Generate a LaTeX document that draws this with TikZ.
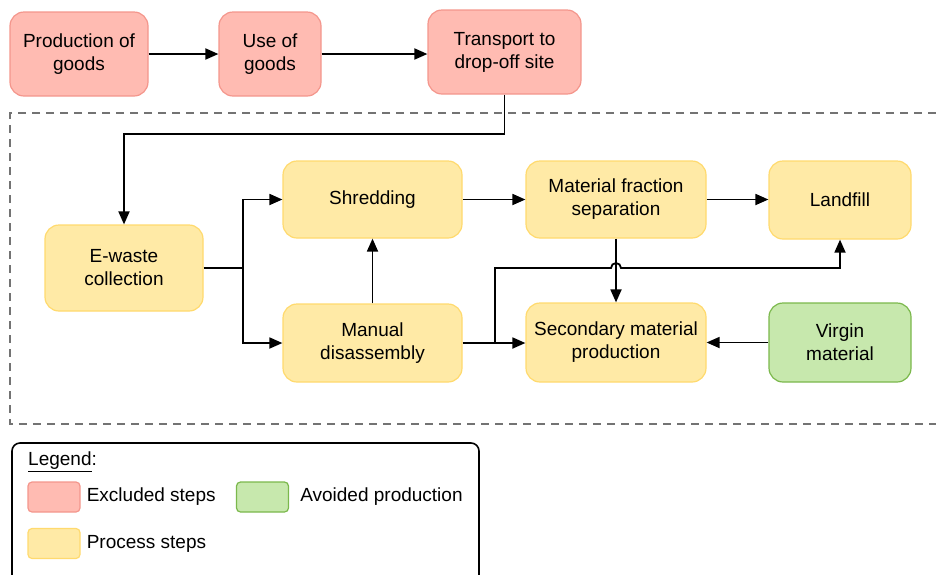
\documentclass[tikz,border=0pt]{standalone}
\usepackage{fontspec}
\setmainfont{Liberation Sans}
\usetikzlibrary{arrows.meta}

\definecolor{exclfill}{HTML}{FFBBB2}
\definecolor{excldraw}{HTML}{F4968C}
\definecolor{procfill}{HTML}{FFEAA6}
\definecolor{procdraw}{HTML}{FFDA6E}
\definecolor{avoidfill}{HTML}{C7E8AD}
\definecolor{avoiddraw}{HTML}{7BB84C}

\tikzset{
  box/.style={rounded corners=14pt, line width=1.2pt, align=center, inner sep=0pt,
              font=\fontsize{19}{23}\selectfont},
  excl/.style={box, fill=exclfill, draw=excldraw},
  proc/.style={box, fill=procfill, draw=procdraw},
  avoid/.style={box, fill=avoidfill, draw=avoiddraw},
  link/.style={line width=1.8pt},
  flow/.style={link, -{Triangle[length=13pt,width=11pt]}},
  swatch/.style={rounded corners=4pt, line width=1.2pt, minimum width=52pt, minimum height=30pt, inner sep=0pt},
  legtext/.style={anchor=west, inner sep=0pt, font=\fontsize{19}{23}\selectfont}
}

\begin{document}
\begin{tikzpicture}[x=1pt,y=1pt]
\useasboundingbox (0,0) rectangle (936,-574);

% excluded steps on top
\node[excl, minimum width=138pt, minimum height=84pt] (prod) at (79,-54) {Production of\\goods};
\node[excl, minimum width=102pt, minimum height=84pt] (use) at (270,-54) {Use of\\goods};
\node[excl, minimum width=153pt, minimum height=84pt] (transp) at (504.5,-52) {Transport to\\drop-off site};

% system boundary
\draw[gray!90!black, line width=1.5pt, dash pattern=on 8pt off 6pt] (950,-113) -- (10,-113) -- (10,-424) -- (950,-424);

% process steps
\node[proc, minimum width=158pt, minimum height=86pt] (ewaste) at (124,-268) {E-waste\\collection};
\node[proc, minimum width=179pt, minimum height=77pt] (shred) at (372.5,-199.5) {Shredding};
\node[proc, minimum width=179pt, minimum height=78pt] (manual) at (372.5,-343) {Manual\\disassembly};
\node[proc, minimum width=180pt, minimum height=77pt] (mfs) at (616,-199.5) {Material fraction\\separation};
\node[proc, minimum width=142pt, minimum height=78pt] (landfill) at (840,-200) {Landfill};
\node[proc, minimum width=180pt, minimum height=79pt] (second) at (616,-342.5) {Secondary material\\production};
\node[avoid, minimum width=142pt, minimum height=79pt] (virgin) at (840,-342.5) {Virgin\\material};

% connectors
\draw[flow] (prod) -- (use);
\draw[flow] (use) -- (transp.west |- use);
\draw[flow] (transp.south) -- ++(0,-39) -| (ewaste.north);

\coordinate (split) at (243,-268);
\draw[link] (ewaste.east) -- (split);
\draw[flow] (split) |- (shred.west);
\draw[flow] (split) |- (manual.west);
\draw[flow] (manual) -- (shred);
\draw[flow] (shred) -- (mfs);
\draw[flow] (mfs) -- (landfill.west |- mfs);
\draw[flow] (mfs) -- (second);
\draw[flow] (manual.east) -- (second.west |- manual.east);
\draw[flow] (virgin) -- (second.east |- virgin);

% residues of disassembly to landfill, hopping over the separation line
\coordinate (fork) at (495,-343);
\coordinate (hop) at (611,-268);
\draw[flow] (fork) -- (fork |- hop) -- (hop) arc (180:0:5) -| (landfill.south);

% legend
\draw[line width=1.6pt, rounded corners=8pt] (12,-590) -- (12,-443) -- (479,-443) -- (479,-590);
\node[legtext] (legtitle) at (28,-462) {\underline{Legend}:};
\node[swatch, fill=exclfill, draw=excldraw] (sw1) at (54,-497) {};
\node[legtext] (lt1) at ([xshift=6pt]sw1.east) {Excluded steps};
\node[swatch, fill=avoidfill, draw=avoiddraw] (sw2) at (262.5,-497) {};
\node[legtext] (lt2) at ([xshift=11pt]sw2.east) {Avoided production};
\node[swatch, fill=procfill, draw=procdraw] (sw3) at (54,-543.5) {};
\node[legtext] (lt3) at ([xshift=6pt]sw3.east) {Process steps};
\end{tikzpicture}
\end{document}
